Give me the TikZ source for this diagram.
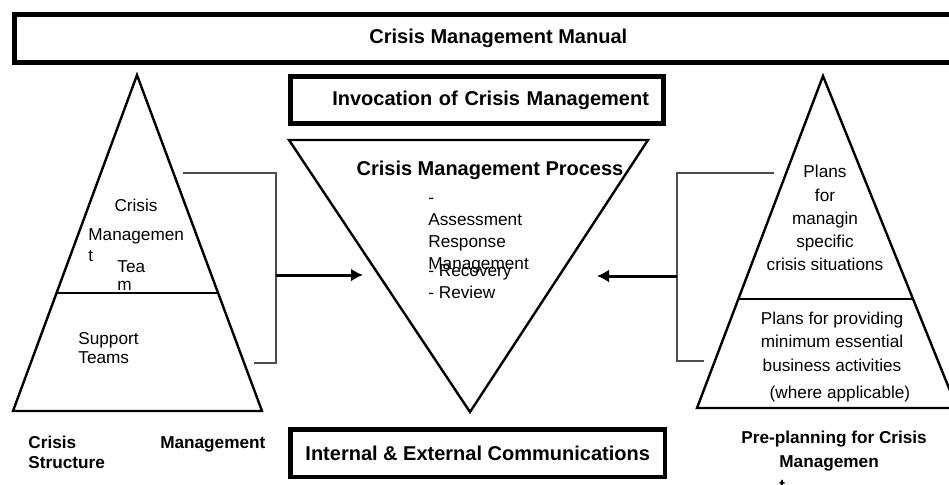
\documentclass[tikz,border=0pt]{standalone}
\usepackage{fontspec}
\setmainfont{Liberation Sans}
\usetikzlibrary{arrows.meta,calc}
\tikzset{
  basic/.style   = {inner sep=0pt, font=\fontsize{8.6}{11.6}\selectfont},
  mbox/.style    = {draw, line width=2.3pt, inner sep=0pt, font=\fontsize{10}{12}\selectfont\bfseries},
  mhead/.style   = {inner sep=0pt, font=\fontsize{10}{12}\selectfont\bfseries},
  mlabel/.style  = {inner sep=0pt, align=left, font=\fontsize{8.6}{10}\selectfont\bfseries},
  pyramid/.style = {line width=1.2pt, line join=miter},
  split/.style   = {line width=1.3pt},
  bracket/.style = {draw=black!70, line width=0.6pt},
  feed/.style    = {-{Latex[length=6pt,width=6.5pt]}, line width=1.5pt}
}

\begin{document}
\begin{tikzpicture}[x=0.5pt, y=-0.5pt]
\useasboundingbox (0,0) rectangle (949,484);
\clip (0,0) rectangle (949,484);

% frames
\node[mbox, anchor=north west, minimum width=484pt, minimum height=24pt] (manual) at (12,12) {Crisis Management Manual};
\node[mbox, minimum width=186.4pt, minimum height=23.4pt, text width=172pt, align=right] (invocation) at (477,100) {Invocation of Crisis Management};
\node[mbox, minimum width=187.3pt, minimum height=23.8pt] (communications) at (477.7,453.2) {Internal \& External Communications};

% crisis management structure
\coordinate (lpeak) at (137,75);
\coordinate (lbase1) at (13,411);
\coordinate (lbase2) at (262,411);
\draw[pyramid] (lpeak) -- (lbase2) -- (lbase1) -- cycle;
\draw[split] ($(lpeak)!0.649!(lbase1)$) -- ($(lpeak)!0.649!(lbase2)$);

\node[basic, anchor=base] (cmtcrisis) at (136,211) {Crisis};
\node[basic, align=left, anchor=north west, font=\fontsize{8.6}{10.25}\selectfont] (cmtmgmt) at (88,228.5) {Managemen\\t};
\node[basic, align=left, anchor=north west, font=\fontsize{8.6}{9}\selectfont] (cmtteam) at (117,260) {Tea\\m};
\node[basic, align=left, anchor=north west, font=\fontsize{8.6}{9.5}\selectfont] (support) at (78,332.5) {Support\\Teams};
\node[mlabel, text width=118.5pt, anchor=north west] (structure) at (28,435.5) {Crisis \hfill Management\\Structure};

% crisis management process
\coordinate (ctop1) at (289,140);
\coordinate (ctop2) at (648,140);
\coordinate (cbottom) at (470,412);
\draw[pyramid] (ctop1) -- (ctop2) -- (cbottom) -- cycle;

\node[mhead, anchor=base] (process) at (490,175) {Crisis Management Process};
\node[basic, align=left, anchor=north west, font=\fontsize{8.6}{11}\selectfont] (steps) at (428,197.6) {-\\Assessment\\Response\\Management};
\node[basic, align=left, anchor=north west, font=\fontsize{8.6}{11}\selectfont] (laststeps) at (428,264.2) {- Recovery\\- Review};

% pre-planning
\coordinate (rpeak) at (823,76);
\coordinate (rbase1) at (697,408);
\coordinate (rbase2) at (957,408);
\draw[pyramid] (rpeak) -- (rbase2) -- (rbase1) -- cycle;
\draw[split] ($(rpeak)!0.672!(rbase1)$) -- ($(rpeak)!0.672!(rbase2)$);

\node[basic, align=center, anchor=north] (plans) at (825,165) {Plans\\for\\managin\\specific\\crisis situations};
\node[basic, align=center, anchor=north, font=\fontsize{8.6}{11.75}\selectfont] (minimum) at (832,311.5) {Plans for providing\\minimum essential\\business activities};
\node[basic, anchor=north] (applicable) at (840,386) {(where applicable)};
\node[mlabel, anchor=north west, font=\fontsize{8.6}{12}\selectfont\bfseries] (preplan) at (741,430.7) {Pre-planning for Crisis\\\hspace*{19pt}Managemen\\\hspace*{19pt}t};

% brackets and arrows
\coordinate (lbr1) at (183,173);
\coordinate (lbr2) at (276,173);
\coordinate (lbr3) at (276,363);
\coordinate (lbr4) at (254,363);
\coordinate (lbrmid) at (276,275);
\coordinate (lin) at (363,275);
\draw[bracket] (lbr1) -- (lbr2) -- (lbr3) -- (lbr4);
\draw[feed] (lbrmid) -- (lin);

\coordinate (rbr1) at (774,173);
\coordinate (rbr2) at (677,173);
\coordinate (rbr3) at (677,361);
\coordinate (rbr4) at (704,361);
\coordinate (rbrmid) at (677,276);
\coordinate (rin) at (597,276);
\draw[bracket] (rbr1) -- (rbr2) -- (rbr3) -- (rbr4);
\draw[feed] (rbrmid) -- (rin);
\end{tikzpicture}
\end{document}
